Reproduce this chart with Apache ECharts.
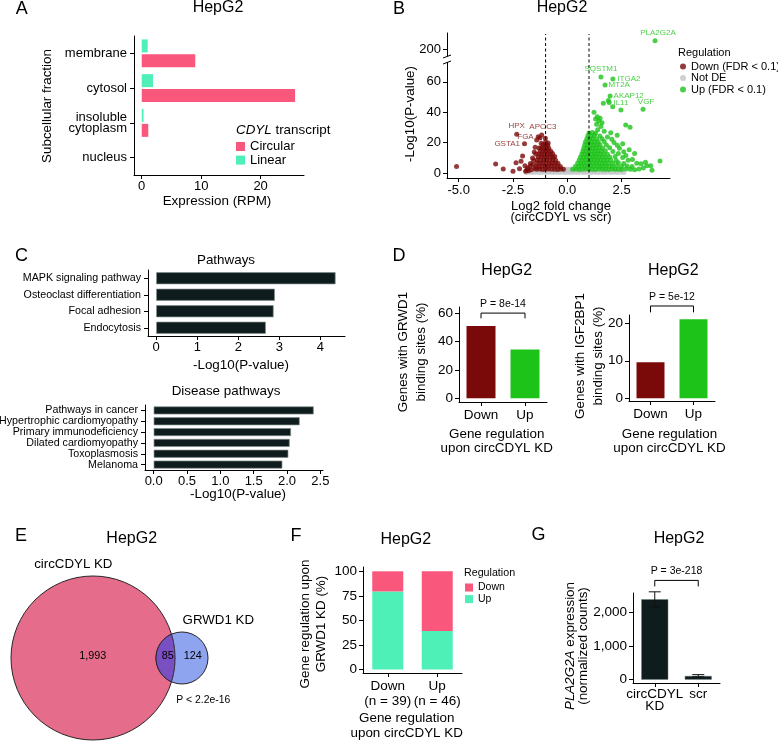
<!DOCTYPE html>
<html><head><meta charset="utf-8">
<script src="https://cdn.jsdelivr.net/npm/echarts@6/dist/echarts.min.js"></script>
<style>html,body{margin:0;padding:0;background:#fff}#c{width:778px;height:741px}</style>
</head><body><div id="c"></div><script>
// ================= DATA =================
// Panel A
const fractions = ['membrane', 'cytosol', 'insoluble\ncytoplasm', 'nucleus'];
const circularRPM = [9.0, 25.8, 1.1, 0];
const linearRPM = [1.0, 1.9, 0.3, 0];
const rpmTicks = [0, 10, 20];

// Panel B (volcano): [log2FC, -log10 P]
const lfcTicks = [-5, -2.5, 0, 2.5];
const pLowTicks = [0, 20, 40, 60];
const pHighTicks = [200];
const volcanoNotDE = [
 [-1.9,0.3],[-1.75,0.5],[-1.6,0.3],[-1.45,0.5],[-1.3,0.3],[-1.15,0.5],[-1.0,0.3],[-0.85,0.5],[-0.7,0.3],[-0.55,0.5],[-0.4,0.3],[-0.25,0.5],[-0.1,0.3],[0.05,0.5],[0.2,0.3],[0.35,0.5],[0.5,0.3],[0.65,0.5],[0.8,0.3],[0.95,0.5],[1.1,0.3],[1.25,0.5],[1.4,0.3],[1.55,0.5],[1.7,0.3],[1.85,0.5],[2.0,0.3],[2.15,0.5],[2.3,0.3],[2.45,0.5],[2.6,0.3],
 [-1.2,1.3],[-0.9,1.2],[-0.6,1.4],[-0.45,1.6],[-0.3,1.4],[-0.15,1.6],[0,1.4],[0.15,1.6],[0.3,1.4],[0.45,1.6],[0.8,1.3],[1.2,1.2],[1.7,1.3],[2.2,1.2],
 [-0.2,2.5],[-0.08,2.7],[0.06,2.5],[0.18,2.7]
];
const volcanoDown = [
 [-5.1,4.2],[-3.3,5.9],[-2.95,2.6],[-2.36,6.8],[-2.06,11.2],[-2.13,7.7],[-1.18,25],[-1.01,22.8],[-1.41,21.7],[-1.87,2.0],[-1.72,4.2],[-1.78,1.5],[-1.65,2.2],[-1.6,5.5],[-1.55,8.4],[-1.5,3.1],[-1.45,12.5],[-1.3,16.5],[-1.2,19.5],[-2.5,1.2],[-2.2,2.8],[-1.95,4.8],[-1.7,6.3],[-1.6,9.8],[-1.52,13.8],[-1.48,17.0],[-1.92,1.1],[-1.83,3.3],
 [-1.42,2.4],[-1.28,2.6],[-1.14,2.3],[-1.0,2.5],[-0.86,2.6],[-0.72,2.4],[-0.58,2.5],[-0.44,2.3],[-0.3,2.6],[-0.18,2.4],
 [-1.44,4.5],[-1.3,4.3],[-1.16,4.6],[-1.02,4.4],[-0.88,4.5],[-0.74,4.7],[-0.6,4.4],[-0.46,4.6],[-0.32,4.3],
 [-1.4,6.6],[-1.26,6.4],[-1.12,6.7],[-0.98,6.5],[-0.84,6.3],[-0.7,6.6],[-0.56,6.5],[-0.43,6.4],
 [-1.38,8.6],[-1.24,8.4],[-1.1,8.7],[-0.96,8.5],[-0.82,8.3],[-0.68,8.6],[-0.54,8.4],
 [-1.34,10.5],[-1.2,10.7],[-1.06,10.4],[-0.94,10.6],[-0.8,10.5],[-0.66,10.3],[-0.58,10.9],
 [-1.3,12.6],[-1.18,12.4],[-1.04,12.7],[-0.92,12.5],[-0.78,12.3],[-0.68,12.8],
 [-1.25,14.5],[-1.12,14.7],[-1.0,14.4],[-0.88,14.6],[-0.76,14.3],
 [-1.2,16.6],[-1.08,16.4],[-0.96,16.7],[-0.85,16.3],
 [-1.12,18.5],[-1.0,18.7],[-0.9,18.3],
 [-1.0,20.3],[-0.88,19.8]
];
const volcanoUp = [
 [1.66,45.8],[1.89,47.6],[1.93,46.4],[2.09,43.6],[1.23,39.9],[1.51,36],[1.38,37],[1.3,35.5],[1.45,34.2],[1.6,33],[1.35,32],[1.55,30.5],[2.69,31.6],[2.89,30],[4.27,7.9],[3.84,4.8],[3.66,4.8],[3.2,6.4],
 [2.7,11.5],[3.0,8.9],[3.1,12.8],[2.4,16.3],[2.85,15.2],[2.15,20.1],[2.55,19.2],[1.85,23.7],[2.0,26.5],[2.3,24.8],[1.7,27.5],[1.4,28.5],[3.5,3.2],[3.9,1.8],[3.6,7.1],
 [0.25,2.4],[0.4,2.6],[0.55,2.3],[0.7,2.5],[0.85,2.6],[1.0,2.4],[1.15,2.5],[1.3,2.3],[1.45,2.6],[1.6,2.4],[1.75,2.5],[1.9,2.3],[2.05,2.6],[2.2,2.4],[2.35,2.5],[2.5,2.3],[2.7,2.6],[2.9,2.4],[3.1,2.2],[3.3,2.7],
 [0.38,4.5],[0.52,4.3],[0.66,4.6],[0.8,4.4],[0.94,4.5],[1.08,4.7],[1.22,4.4],[1.36,4.6],[1.5,4.3],[1.64,4.5],[1.78,4.6],[1.92,4.4],[2.08,4.5],[2.28,4.7],[2.5,4.3],[2.75,4.6],[2.98,4.2],
 [0.48,6.5],[0.62,6.3],[0.76,6.6],[0.9,6.4],[1.04,6.5],[1.18,6.7],[1.32,6.4],[1.46,6.6],[1.6,6.3],[1.74,6.5],[1.9,6.6],[2.1,6.4],[2.35,6.7],[2.6,6.2],[3.4,6.0],
 [0.55,8.5],[0.69,8.3],[0.83,8.6],[0.97,8.4],[1.11,8.5],[1.25,8.7],[1.39,8.4],[1.53,8.6],[1.67,8.3],[1.82,8.5],[2.0,8.6],[2.25,8.2],[2.8,8.4],
 [0.61,10.5],[0.75,10.3],[0.89,10.6],[1.03,10.4],[1.17,10.5],[1.31,10.7],[1.45,10.4],[1.6,10.6],[1.75,10.3],[1.95,10.5],[2.2,10.8],[2.55,10.2],
 [0.67,12.5],[0.81,12.3],[0.95,12.6],[1.09,12.4],[1.23,12.5],[1.37,12.7],[1.51,12.4],[1.66,12.6],[1.85,12.3],[2.35,12.8],
 [0.72,14.5],[0.86,14.3],[1.0,14.6],[1.14,14.4],[1.28,14.5],[1.42,14.7],[1.56,14.4],[1.75,14.6],[2.1,14.2],[2.6,14.0],
 [0.76,16.5],[0.9,16.3],[1.04,16.6],[1.18,16.4],[1.32,16.5],[1.46,16.7],[1.62,16.4],[1.95,16.6],
 [0.8,18.5],[0.94,18.3],[1.08,18.6],[1.22,18.4],[1.36,18.5],[1.5,18.7],[1.8,18.4],[2.3,18.2],
 [0.84,20.5],[0.98,20.3],[1.12,20.6],[1.26,20.4],[1.42,20.5],[1.7,20.7],
 [0.9,22.5],[1.04,22.3],[1.18,22.6],[1.35,22.4],[1.6,22.5],[2.05,22.2],
 [0.95,24.5],[1.1,24.3],[1.25,24.6],[1.5,24.4],
 [1.0,26.3],[1.15,26.6],[1.3,26.2]
];
// labelled genes: [gene, log2FC, -log10P, regulation]
const volcanoLabels = [
 ['PLA2G2A', 4.04, 217, 'up'], ['SQSTM1', 1.55, 63.2, 'up'], ['ITGA2', 2.1, 61.8, 'up'],
 ['MT2A', 1.74, 57.9, 'up'], ['AKAP12', 1.97, 50.7, 'up'], ['IL11', 2.47, 41.4, 'up'],
 ['VGF', 3.49, 41.9, 'up'], ['HPX', -2.33, 25.5, 'down'], ['APOC3', -1.26, 23.0, 'down'],
 ['FGA', -1.34, 23.9, 'down'], ['GSTA1', -1.97, 19.3, 'down']
];

// Panel C
const pathways = ['MAPK signaling pathway', 'Osteoclast differentiation', 'Focal adhesion', 'Endocytosis'];
const pathwayLogP = [4.37, 2.89, 2.86, 2.67];
const pathwayTicks = [0, 1, 2, 3, 4];
const diseases = ['Pathways in cancer', 'Hypertrophic cardiomyopathy', 'Primary immunodeficiency', 'Dilated cardiomyopathy', 'Toxoplasmosis', 'Melanoma'];
const diseaseLogP = [2.4, 2.19, 2.06, 2.04, 2.02, 1.93];
const diseaseTicks = [0, 0.5, 1, 1.5, 2, 2.5];

// Panel D
const regCats = ['Down', 'Up'];
const grwd1Pct = [50.9, 34.3];
const igf2bp1Pct = [9.6, 21.1];
const grwd1Ticks = [0, 20, 40, 60];
const igfTicks = [0, 10, 20];

// Panel E (Venn counts)
const circOnly = 1993, vennOverlap = 85, grwdOnly = 124;

// Panel F
const fCats = ['Down\n(n = 39)', 'Up\n(n = 46)'];
const fUpCounts = [31, 18];
const fDownCounts = [8, 28];
const fTicks = [0, 25, 50, 75, 100];

// Panel G
const gCats = ['circCDYL\nKD', 'scr'];
const plaMean = [2380, 110];
const plaErrLow = [2150, 85];
const plaErrHigh = [2600, 150];
const gTicks = [0, 1000, 2000];

// ================= STYLE =================
const FONT = 'Liberation Sans, Arial, Helvetica, sans-serif';
const BLACK = '#000';
const COL = {circular:'#f9577b', linear:'#4ff0b8', down:'#7a0a0a', notde:'#c2c6c6', up:'#1ec31a',
  dark:'#0f1c1d', vennBig:'#e56d8b', vennSmall:'#8ea4ef', vennLens:'#7a4fc2'};

function merge(a, b) {
  const o = Object.assign({}, a);
  for (const k in b) {
    if (b[k] && typeof b[k] === 'object' && !Array.isArray(b[k]) && a[k] && typeof a[k] === 'object') o[k] = merge(a[k], b[k]);
    else o[k] = b[k];
  }
  return o;
}
const baseAxis = {
  axisLine: {show: true, onZero: false, lineStyle: {color: BLACK, width: 1}},
  axisTick: {show: true, length: 4, lineStyle: {color: BLACK, width: 1}},
  axisLabel: {color: BLACK, fontSize: 13, margin: 6, fontFamily: FONT},
  splitLine: {show: false}
};
const ax = e => merge(baseAxis, e);
const valAx = (gi, min, max, ticks, extra) => ax(merge({gridIndex: gi, type: 'value', min, max,
  axisTick: {customValues: ticks}, axisLabel: {customValues: ticks}}, extra || {}));
const catAx = (gi, data, extra) => ax(merge({gridIndex: gi, type: 'category', data,
  axisTick: {alignWithLabel: true, interval: 0}, axisLabel: {interval: 0, hideOverlap: false}}, extra || {}));

const grid = (left, top, width, height) => ({left, top, width, height, containLabel: false, outerBoundsMode: 'none'});

const chart = echarts.init(document.getElementById('c'), null, {renderer: 'canvas', width: 778, height: 741});

const labelPos = {PLA2G2A:{p:'top',d:2,o:[3,0]}, SQSTM1:{p:'top',d:2}, ITGA2:{p:'right',d:2}, MT2A:{p:'right',d:1},
  AKAP12:{p:'right',d:1}, IL11:{p:'top',d:1}, VGF:{p:'top',d:1,o:[3,0]}, HPX:{p:'top',d:2},
  APOC3:{p:'top',d:5,o:[3,0]}, FGA:{p:'left',d:2}, GSTA1:{p:'left',d:2}};
const labelItems = arr => arr.map(d => {
  const c = d[3] === 'up' ? COL.up : COL.down, lp = labelPos[d[0]];
  return {value: [d[1], d[2]], itemStyle: {color: c},
    label: {show: true, formatter: d[0], position: lp.p, distance: lp.d, offset: lp.o || [0, 0], color: c, fontSize: 8, fontFamily: FONT}};
});

const fTot = fUpCounts.map((u, i) => u + fDownCounts[i]);
const fUpPct = fUpCounts.map((u, i) => 100 * u / fTot[i]);
const fDownPct = fDownCounts.map((d, i) => 100 * d / fTot[i]);
const PT = 5;

const option = {
  animation: false,
  backgroundColor: '#fff',
  textStyle: {fontFamily: FONT, color: BLACK},
  grid: [
    grid(134, 36, 170, 139),   // A
    grid(447, 62, 223, 116),   // B lower
    grid(447, 33, 223, 23),    // B upper
    grid(148, 270, 197, 66),   // C top
    grid(145, 405, 178, 65),   // C bottom
    grid(459, 307, 88, 95),    // D left
    grid(629, 315, 86, 86),    // D right
    grid(363, 567, 99, 106),   // F
    grid(633, 593, 87, 90)     // G
  ],
  xAxis: [
    valAx(0, -1.3, 27.3, rpmTicks, {axisLabel: {margin: 5}}),
    valAx(1, -5.54, 4.73, lfcTicks, {axisLabel: {formatter: v => v.toFixed(1)}}),
    {gridIndex: 2, type: 'value', min: -5.54, max: 4.73, show: false},
    valAx(3, -0.2, 4.6, pathwayTicks, {axisLabel: {margin: 5}}),
    valAx(4, -0.13, 2.54, diseaseTicks, {axisLabel: {margin: 5, formatter: v => v.toFixed(1)}}),
    catAx(5, regCats, {axisLabel: {fontSize: 13.5}}),
    catAx(6, regCats, {axisLabel: {fontSize: 13.5}}),
    catAx(7, fCats, {axisLabel: {fontSize: 13.5, lineHeight: 15}}),
    catAx(8, gCats, {axisLabel: {fontSize: 13.5, lineHeight: 12, margin: 5}})
  ],
  yAxis: [
    catAx(0, fractions, {inverse: true, axisLabel: {lineHeight: 11, margin: 7}}),
    valAx(1, -3.3, 73, pLowTicks),
    valAx(2, 186, 233, pHighTicks),
    catAx(3, pathways, {inverse: true, axisLabel: {fontSize: 10.7, margin: 7}}),
    catAx(4, diseases, {inverse: true, axisLabel: {fontSize: 10.7, margin: 7}}),
    valAx(5, -2.6, 64.3, grwd1Ticks, {axisLabel: {fontSize: 13.5}}),
    valAx(6, -0.72, 22.2, igfTicks, {axisLabel: {fontSize: 13.5}}),
    valAx(7, -3.5, 104.4, fTicks, {axisLabel: {fontSize: 13.5}}),
    valAx(8, -98, 2565, gTicks, {axisLabel: {fontSize: 13.5, formatter: v => v.toLocaleString('en-US')}})
  ],
  legend: [
    {data: ['Circular', 'Linear'], left: 236, top: 140, orient: 'vertical', icon: 'rect', itemWidth: 9, itemHeight: 9,
      itemGap: 0.6, padding: 0, selectedMode: false, textStyle: {fontSize: 13, color: BLACK, lineHeight: 11, fontFamily: FONT}},
    {data: ['Down (FDR < 0.1)', 'Not DE', 'Up (FDR < 0.1)'], left: 680, top: 61, orient: 'vertical', icon: 'circle',
      itemWidth: 6, itemHeight: 6, itemGap: 0.5, padding: 0, selectedMode: false,
      textStyle: {fontSize: 11, color: BLACK, lineHeight: 10, fontFamily: FONT}},
    {data: ['Down', 'Up'], left: 465, top: 582, orient: 'vertical', icon: 'rect', itemWidth: 8, itemHeight: 8,
      itemGap: 0.6, padding: 0, selectedMode: false, textStyle: {fontSize: 10.5, color: BLACK, lineHeight: 10, fontFamily: FONT}}
  ],
  series: [
    // A
    {type: 'bar', name: 'Linear', xAxisIndex: 0, yAxisIndex: 0, data: linearRPM, barWidth: 13, barGap: '15%', itemStyle: {color: COL.linear}},
    {type: 'bar', name: 'Circular', xAxisIndex: 0, yAxisIndex: 0, data: circularRPM, barWidth: 13, barGap: '15%', itemStyle: {color: COL.circular}},
    // B
    {type: 'scatter', name: 'Not DE', xAxisIndex: 1, yAxisIndex: 1, data: volcanoNotDE, symbol: 'circle', symbolSize: PT, itemStyle: {color: COL.notde}},
    {type: 'scatter', name: 'Down (FDR < 0.1)', xAxisIndex: 1, yAxisIndex: 1, data: volcanoDown, symbol: 'circle', symbolSize: PT, itemStyle: {color: COL.down}},
    {type: 'scatter', name: 'Up (FDR < 0.1)', xAxisIndex: 1, yAxisIndex: 1, data: volcanoUp, symbol: 'circle', symbolSize: PT, itemStyle: {color: COL.up}},
    {type: 'scatter', name: 'labels-low', xAxisIndex: 1, yAxisIndex: 1, symbol: 'circle', symbolSize: PT, data: labelItems(volcanoLabels.filter(d => d[2] < 100))},
    {type: 'scatter', name: 'labels-high', xAxisIndex: 2, yAxisIndex: 2, symbol: 'circle', symbolSize: PT, data: labelItems(volcanoLabels.filter(d => d[2] >= 100))},
    // C
    {type: 'bar', xAxisIndex: 3, yAxisIndex: 3, data: pathwayLogP, barWidth: 12, itemStyle: {color: COL.dark, borderColor: '#7f8b8b', borderWidth: 0.7}},
    {type: 'bar', xAxisIndex: 4, yAxisIndex: 4, data: diseaseLogP, barWidth: 8, itemStyle: {color: COL.dark, borderColor: '#7f8b8b', borderWidth: 0.7}},
    // D
    {type: 'bar', xAxisIndex: 5, yAxisIndex: 5, barWidth: 29, data: grwd1Pct.map((v, i) => ({value: v, itemStyle: {color: i ? COL.up : COL.down}}))},
    {type: 'bar', xAxisIndex: 6, yAxisIndex: 6, barWidth: 28, data: igf2bp1Pct.map((v, i) => ({value: v, itemStyle: {color: i ? COL.up : COL.down}}))},
    // F
    {type: 'bar', name: 'Up', xAxisIndex: 7, yAxisIndex: 7, stack: 'f', barWidth: 31, data: fUpPct, itemStyle: {color: COL.linear}},
    {type: 'bar', name: 'Down', xAxisIndex: 7, yAxisIndex: 7, stack: 'f', barWidth: 31, data: fDownPct, itemStyle: {color: COL.circular}},
    // G
    {type: 'bar', xAxisIndex: 8, yAxisIndex: 8, barWidth: 27, data: plaMean, itemStyle: {color: COL.dark, borderColor: '#6f7c80', borderWidth: 0.5}},
    {type: 'custom', xAxisIndex: 8, yAxisIndex: 8, z: 5, data: plaErrLow.map((lo, i) => [i, lo, plaErrHigh[i]]),
      renderItem: (params, api) => {
        const lo = api.coord([api.value(0), api.value(1)]), hi = api.coord([api.value(0), api.value(2)]);
        const hw = 6, st = {stroke: '#111', lineWidth: 1};
        return {type: 'group', children: [
          {type: 'line', shape: {x1: lo[0], y1: lo[1], x2: hi[0], y2: hi[1]}, style: st},
          {type: 'line', shape: {x1: lo[0] - hw, y1: lo[1], x2: lo[0] + hw, y2: lo[1]}, style: st},
          {type: 'line', shape: {x1: hi[0] - hw, y1: hi[1], x2: hi[0] + hw, y2: hi[1]}, style: st}
        ]};
      }}
  ]
};
chart.setOption(option);

// ================= ANNOTATIONS =================
function txt(text, x, y, size, o) {
  o = o || {};
  return {type: 'text', x, y, rotation: o.rot || 0, silent: true, z: 50,
    style: {text, fontSize: size, fontFamily: FONT, fill: o.color || BLACK, align: o.align || 'center',
      verticalAlign: 'middle', rich: o.rich}};
}
const R90 = Math.PI / 2;
const ital = s => ({i: {fontStyle: 'italic', fontSize: s, fontFamily: FONT, fill: BLACK}});
const els = [
  txt('A', 21.7, 9, 18), txt('B', 399, 9, 18), txt('C', 21.5, 256, 18), txt('D', 399, 256, 18),
  txt('E', 21, 536.5, 18), txt('F', 296, 536.5, 18), txt('G', 538.5, 535.5, 18),
  txt('HepG2', 218, 8, 16), txt('HepG2', 562, 8, 16), txt('HepG2', 506.7, 271, 16), txt('HepG2', 673.3, 271, 16),
  txt('HepG2', 131.7, 539, 16), txt('HepG2', 405.8, 539.5, 16), txt('HepG2', 679, 539, 16),
  txt('Subcellular fraction', 47, 106, 13.4, {rot: R90}),
  txt('Expression (RPM)', 217, 201.5, 13.4),
  txt('{i|CDYL} transcript', 236, 130, 13.4, {align: 'left', rich: ital(13.4)}),
  txt('-Log10(P-value)', 410, 114, 13.4, {rot: R90}),
  txt('Log2 fold change', 561, 206.5, 13),
  txt('(circCDYL vs scr)', 561, 217.5, 13),
  txt('Regulation', 678, 53, 11, {align: 'left'}),
  txt('Pathways', 226, 260, 13.4), txt('Disease pathways', 226, 391.5, 13.4),
  txt('-Log10(P-value)', 241, 365, 13.4), txt('-Log10(P-value)', 238, 494, 13.4),
  txt('Genes with GRWD1', 403, 352, 13.4, {rot: R90}), txt('binding sites (%)', 421.5, 352, 13.4, {rot: R90}),
  txt('Genes with IGF2BP1', 580, 356, 13.4, {rot: R90}), txt('binding sites (%)', 598.3, 356, 13.4, {rot: R90}),
  txt('Gene regulation', 496.7, 434.3, 13.4), txt('upon circCDYL KD', 496.7, 448.3, 13.4),
  txt('Gene regulation', 669.5, 434.3, 13.4), txt('upon circCDYL KD', 669.5, 448.3, 13.4),
  txt('Gene regulation upon', 305, 624, 13.4, {rot: R90}), txt('GRWD1 KD (%)', 321.7, 624, 13.4, {rot: R90}),
  txt('Gene regulation', 406.7, 718.3, 13.4), txt('upon circCDYL KD', 406.7, 733.3, 13.4),
  txt('Regulation', 464, 573.3, 10.7, {align: 'left'}),
  txt('{i|PLA2G2A} expression', 570, 646, 13.4, {rot: R90, rich: ital(13.4)}),
  txt('(normalized counts)', 583.5, 646, 13.4, {rot: R90})
];

// Venn (areas proportional to set sizes)
const bigN = circOnly + vennOverlap, smallN = grwdOnly + vennOverlap;
const kR = 82 / Math.sqrt(bigN);
const r1 = kR * Math.sqrt(bigN), r2 = kR * Math.sqrt(smallN);
const c1 = [93, 658], c2 = [182, 658];
const dd = c2[0] - c1[0];
const aa = (dd * dd + r1 * r1 - r2 * r2) / (2 * dd), hh = Math.sqrt(r1 * r1 - aa * aa);
const angS = Math.atan2(hh, aa - dd), angB = Math.atan2(hh, aa);
const lens = [];
for (let i = 0; i <= 40; i++) { const t = angS + (2 * Math.PI - 2 * angS) * i / 40; lens.push([c2[0] + r2 * Math.cos(t), c2[1] + r2 * Math.sin(t)]); }
for (let i = 0; i <= 40; i++) { const t = -angB + 2 * angB * i / 40; lens.push([c1[0] + r1 * Math.cos(t), c1[1] + r1 * Math.sin(t)]); }
const vstroke = {stroke: '#262626', lineWidth: 1};
els.push(
  {type: 'circle', z: 10, shape: {cx: c1[0], cy: c1[1], r: r1}, style: Object.assign({fill: COL.vennBig}, vstroke)},
  {type: 'circle', z: 11, shape: {cx: c2[0], cy: c2[1], r: r2}, style: Object.assign({fill: COL.vennSmall}, vstroke)},
  {type: 'polygon', z: 12, shape: {points: lens}, style: Object.assign({fill: COL.vennLens}, vstroke)},
  txt('circCDYL KD', 73.3, 564, 13.3), txt('GRWD1 KD', 218.3, 620, 13.3),
  txt(circOnly.toLocaleString('en-US'), 92.7, 656, 10.8), txt(String(vennOverlap), 167.7, 656, 10.8),
  txt(String(grwdOnly), 192.7, 656, 10.8), txt('P < 2.2e-16', 203.3, 700.5, 10.4)
);

// significance brackets (positions in data units)
function bracket(gi, yTop, yEnd, label) {
  const p1 = chart.convertToPixel({gridIndex: gi}, [0, yTop]), p2 = chart.convertToPixel({gridIndex: gi}, [1, yTop]);
  const e = chart.convertToPixel({gridIndex: gi}, [0, yEnd]);
  els.push({type: 'polyline', z: 20, shape: {points: [[p1[0], e[1]], [p1[0], p1[1]], [p2[0], p2[1]], [p2[0], e[1]]]},
    style: {stroke: '#000', lineWidth: 1, fill: null}});
  els.push(txt(label, (p1[0] + p2[0]) / 2, p1[1] - 9, 10.5));
}
bracket(5, 60, 56.3, 'P = 8e-14');
bracket(6, 24.6, 22.9, 'P = 5e-12');
bracket(8, 2938, 2760, 'P = 3e-218');

// volcano thresholds (|log2FC| = 1) spanning both panels, plus axis break mark
[-1, 1].forEach(v => {
  const lo = chart.convertToPixel({gridIndex: 1}, [v, -3.3]);
  const hi = chart.convertToPixel({gridIndex: 2}, [v, 231]);
  els.push({type: 'line', z: 3, shape: {x1: lo[0], y1: lo[1], x2: hi[0], y2: hi[1]},
    style: {stroke: '#000', lineWidth: 1, lineDash: [3, 2.5]}});
});
els.push({type: 'rect', z: 30, shape: {x: 441, y: 57, width: 12, height: 5}, style: {fill: '#fff'}});
els.push({type: 'line', z: 31, shape: {x1: 443, y1: 58, x2: 451, y2: 55}, style: {stroke: '#000', lineWidth: 1}});
els.push({type: 'line', z: 31, shape: {x1: 443, y1: 64, x2: 451, y2: 61}, style: {stroke: '#000', lineWidth: 1}});

chart.setOption({graphic: {elements: els}});
</script></body></html>
